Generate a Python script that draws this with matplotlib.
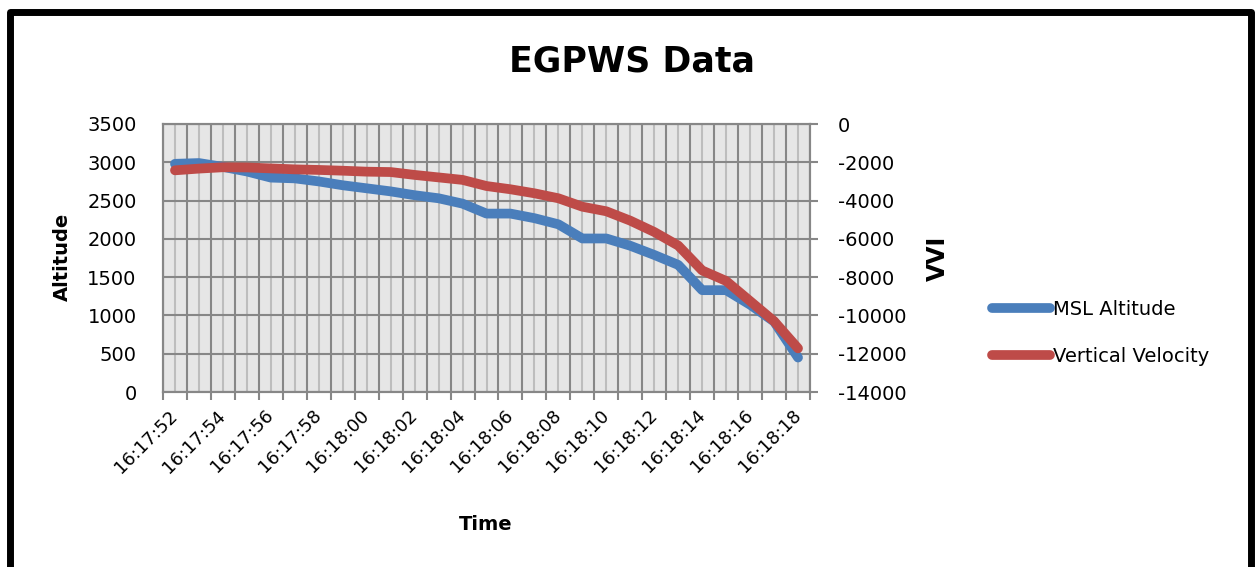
import numpy as np
import matplotlib.pyplot as plt
from matplotlib.patches import Rectangle
from matplotlib.ticker import FixedLocator, MultipleLocator

plt.rcParams['axes.unicode_minus'] = False

# Dados (um ponto por segundo)
tempos = ['16:17:52', '16:17:53', '16:17:54', '16:17:55', '16:17:56', '16:17:57',
          '16:17:58', '16:17:59', '16:18:00', '16:18:01', '16:18:02', '16:18:03',
          '16:18:04', '16:18:05', '16:18:06', '16:18:07', '16:18:08', '16:18:09',
          '16:18:10', '16:18:11', '16:18:12', '16:18:13', '16:18:14', '16:18:15',
          '16:18:16', '16:18:17', '16:18:18']
msl_altitude = [2980, 2990, 2940, 2880, 2800, 2790, 2750, 2700, 2660, 2620,
                2570, 2530, 2460, 2330, 2330, 2270, 2190, 2005, 2005, 1910,
                1790, 1660, 1330, 1330, 1140, 920, 450]
vertical_velocity = [-2420, -2330, -2260, -2270, -2320, -2370, -2400, -2440, -2490, -2510,
                     -2660, -2790, -2920, -3240, -3410, -3620, -3880, -4320, -4560, -5050,
                     -5640, -6350, -7650, -8200, -9250, -10300, -11720]

W, H = 1260, 567
cor_azul = '#4A7EBB'
cor_verm = '#BE4B48'
cinza = '#878787'

fig = plt.figure(figsize=(W / 100, H / 100), dpi=100)

# Moldura preta em volta do gráfico
fig.patches.append(Rectangle((9.5 / W, -8 / H), (1251 - 9.5) / W, (H + 8 - 11.5) / H,
                             transform=fig.transFigure, fill=False, edgecolor='black',
                             linewidth=5, joinstyle='round'))

x = np.arange(len(tempos))
ax1 = fig.add_axes([163 / W, 1 - 392 / H, (810 - 163) / W, (392 - 124) / H])
ax1.set_facecolor('#E6E6E6')
ax1.set_xlim(-0.5, len(tempos) - 0.5)
ax1.set_ylim(0, 3500)
ax1.yaxis.set_major_locator(MultipleLocator(500))

# Grade: linhas fortes nos limites das categorias, claras no centro
ax1.xaxis.set_major_locator(FixedLocator(np.arange(-0.5, len(tempos), 1.0)))
ax1.xaxis.set_minor_locator(FixedLocator(x))
ax1.set_xticklabels([], minor=False)
ax1.set_xticklabels([t if i % 2 == 0 else '' for i, t in enumerate(tempos)], minor=True,
                    rotation=45, ha='right', va='center', rotation_mode='anchor', fontsize=13)
ax1.grid(which='major', axis='both', color=cinza, linewidth=1.5)
ax1.grid(which='minor', axis='x', color='#BDBDBD', linewidth=1.5)
ax1.set_axisbelow(True)
ax1.tick_params(axis='x', which='major', length=6, width=1.5, color=cinza, direction='out')
ax1.tick_params(axis='x', which='minor', length=0, pad=15)
ax1.tick_params(axis='y', length=0, pad=19, labelsize=14)
for s in ax1.spines.values():
    s.set_color(cinza)
    s.set_linewidth(1.5)

l1, = ax1.plot(x, msl_altitude, color=cor_azul, linewidth=7, solid_capstyle='round',
               solid_joinstyle='round', label='MSL Altitude')

ax2 = ax1.twinx()
ax2.set_ylim(-14000, 0)
ax2.yaxis.set_major_locator(MultipleLocator(2000))
ax2.tick_params(axis='y', length=6, width=1.5, color=cinza, pad=14, labelsize=14)
for s in ax2.spines.values():
    s.set_color(cinza)
    s.set_linewidth(1.5)
l2, = ax2.plot(x, vertical_velocity, color=cor_verm, linewidth=7, solid_capstyle='round',
               solid_joinstyle='round', label='Vertical Velocity')

# Textos
fig.text(632 / W, 1 - 62 / H, 'EGPWS Data', ha='center', va='center',
         fontsize=25, fontweight='bold')
fig.text(62 / W, 1 - 257 / H, 'Altitude', rotation=90, ha='center', va='center',
         fontsize=14, fontweight='bold')
fig.text(938 / W, 1 - 258 / H, 'VVI', rotation=90, ha='center', va='center',
         fontsize=17, fontweight='bold')
fig.text(486 / W, 1 - 524 / H, 'Time', ha='center', va='center',
         fontsize=14, fontweight='bold')

fig.legend(handles=[l1, l2], loc='center left', bbox_to_anchor=(992 / W, 1 - 333 / H),
           frameon=False, fontsize=14, handlelength=3.0, handletextpad=0.15,
           labelspacing=1.45, borderpad=0, borderaxespad=0)

fig.savefig('out.png', dpi=100)
